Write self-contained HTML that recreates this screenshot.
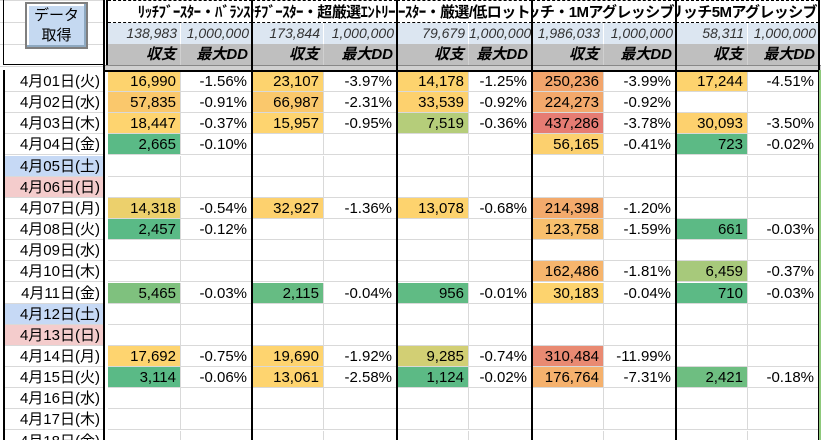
<!DOCTYPE html>
<html><head><meta charset="utf-8">
<style>
html,body{margin:0;width:821px;height:440px;overflow:hidden;background:#fff;font-family:"Liberation Sans","Noto Sans CJK JP",sans-serif;position:relative}
.a{position:absolute;box-sizing:border-box;white-space:nowrap;overflow:hidden}
.c{font-size:15px;text-align:right;padding-right:4px;line-height:21px;color:#000}
.t{font-size:15px;font-weight:bold;display:flex;justify-content:flex-end;align-items:center;padding-right:2px;letter-spacing:-0.6px}
.n{font-size:14px;font-style:italic;text-align:right;padding-right:3px;line-height:21px;color:#333;background:#dce6f1}
.l{font-size:15px;font-style:italic;font-weight:bold;text-align:right;padding-right:4px;line-height:21px;background:#bfbfbf}
</style></head><body>
<div id="root"></div>
<script>
const dates=["4月01日(火)","4月02日(水)","4月03日(木)","4月04日(金)","4月05日(土)","4月06日(日)","4月07日(月)","4月08日(火)","4月09日(水)","4月10日(木)","4月11日(金)","4月12日(土)","4月13日(日)","4月14日(月)","4月15日(火)","4月16日(水)","4月17日(木)","4月18日(金)"];
const titles=["ﾘｯﾁﾌﾞｰｽﾀｰ・ﾊﾞﾗﾝｽ","ﾘｯﾁﾌﾞｰｽﾀｰ・超厳選ｴﾝﾄﾘｰ","ﾘｯﾁﾌﾞｰｽﾀｰ・厳選/低ロット","リッチ・1Mアグレッシブ","リッチ5Mアグレッシブ"];
const totals=["138,983","173,844","79,679","1,986,033","58,311"];
const capital=["1,000,000","1,000,000","1,000,000","1,000,000","1,000,000"];
const g1=[["16,990","-1.56%","#fdd36e"],["57,835","-0.91%","#fac86c"],["18,447","-0.37%","#fed46f"],["2,665","-0.10%","#5aba86"],null,null,["14,318","-0.54%","#ecd06c"],["2,457","-0.12%","#5aba86"],null,null,["5,465","-0.03%","#7fc17e"],null,null,["17,692","-0.75%","#fed46f"],["3,114","-0.06%","#5aba86"],null,null,null];
const g2=[["23,107","-3.97%","#fdd36e"],["66,987","-2.31%","#fac86c"],["15,957","-0.95%","#fed46f"],null,null,null,["32,927","-1.36%","#fdd16e"],null,null,null,["2,115","-0.04%","#66bc83"],null,null,["19,690","-1.92%","#fed46f"],["13,061","-2.58%","#fed46f"],null,null,null];
const g3=[["14,178","-1.25%","#fdd36e"],["33,539","-0.92%","#fdd16e"],["7,519","-0.36%","#b5cd7a"],null,null,null,["13,078","-0.68%","#fdd36e"],null,null,null,["956","-0.01%","#60bb84"],null,null,["9,285","-0.74%","#d2cf74"],["1,124","-0.02%","#5cba85"],null,null,null];
const g4=[["250,236","-3.99%","#f2a56c"],["224,273","-0.92%","#f3a96c"],["437,286","-3.78%","#e67c73"],["56,165","-0.41%","#fcd06e"],null,null,["214,398","-1.20%","#f3aa6c"],["123,758","-1.59%","#f8bf6d"],null,["162,486","-1.81%","#f6b56d"],["30,183","-0.04%","#fdd36e"],null,null,["310,484","-11.99%","#e98a72"],["176,764","-7.31%","#f5b16d"],null,null,null];
const g5=[["17,244","-4.51%","#fdd36e"],null,["30,093","-3.50%","#fdd16e"],["723","-0.02%","#5cba85"],null,null,null,["661","-0.03%","#5cba85"],null,["6,459","-0.37%","#a7c97b"],["710","-0.03%","#5cba85"],null,null,null,["2,421","-0.18%","#6ebe81"],null,null,null];
const groups=[g1,g2,g3,g4,g5];
const gx=[[108,181,252],[252,324,397],[397,469,532],[532,604,676],[676,748,819]];
const R=document.getElementById('root');
function box(cls,x,y,w,h,txt,css,name){const d=document.createElement('div');d.className='a '+cls;d.style.cssText=`left:${x}px;top:${y}px;width:${w}px;height:${h}px;`+(css||'');if(txt!==undefined)d.textContent=txt;


R.appendChild(d);return d;}
for(let i=0;i<4;i++)box('',0,i*22,105,1,undefined,'background:#d9d9d9','grid-line');
const btn=box('',25,2,63,47,undefined,'background:#c5d9f1;border:2px solid #7f7f7f;box-shadow:inset -2px -2px 0 #8ea9c1,inset 2px 2px 0 #fff;font-size:15px;text-align:center;line-height:20px;padding-top:2px;white-space:normal','data-button');
btn.innerHTML='データ<br>取得';

box('',3,0,102,65,undefined,'border-right:2px solid #000;border-left:1px solid #000;border-bottom:1px solid #000','header-left-frame');
box('',105,65,716,6,undefined,'background:#d0d0d0;border-top:1px solid #888','header-gap');
gx.forEach((g,k)=>{
 box('t',g[0],0,g[2]-g[0],23,titles[k],'border-top:1px dashed #000;border-bottom:1px dashed #000','strategy-title-'+(k+1));
 box('n',g[0],23,g[1]-g[0],21,totals[k],'border-right:1px solid #fff','total-profit-'+(k+1));
 box('n',g[1],23,g[2]-g[1],21,capital[k],'','capital-'+(k+1));
 box('l',g[0],44,g[1]-g[0],21,'収支','border-right:1px solid #d0d0d0','profit-header-'+(k+1));
 box('l',g[1],44,g[2]-g[1],21,'最大DD','','max-dd-header-'+(k+1));
});
const top0=71,rh=21.15;
dates.forEach((d,i)=>{
 const y=Math.round(top0+i*rh);
 let bg='#fff';if(d.includes('土'))bg='#c6d9f5';if(d.includes('日)'))bg='#f4cccc';
 box('c',5,y,98,21,d,`background:${bg};border-bottom:1px solid #d9d9d9;padding-right:3px`,'date-cell');
 groups.forEach((g,k)=>{
  const v=g[i],x=gx[k];
  box('c',x[0],y,x[1]-x[0],21,v?v[0]:'',`background:${v?v[2]:'#fff'};border-bottom:1px solid #d9d9d9;border-right:1px solid #d9d9d9`,'profit-cell');
  box('c',x[1],y,x[2]-x[1],21,v?v[1]:'','border-bottom:1px solid #d9d9d9;border-right:1px solid #d9d9d9','max-dd-cell');
 });
});
box('',3,70,2,370,undefined,'background:#000','date-col-left-border');
box('',103,65,2,375,undefined,'background:#000','date-col-right-border');
box('',105,70,716,2,undefined,'background:#000','header-bottom-border');
[252,397,532,676,819].forEach(x=>box('',x-1,0,2,440,undefined,'background:#000','group-border'));
box('',106,0,2,65,undefined,'background:#000','header-left-border');
box('',819,70,2,370,undefined,'background:#8fc97c','next-column-sliver');
</script>
</body></html>
